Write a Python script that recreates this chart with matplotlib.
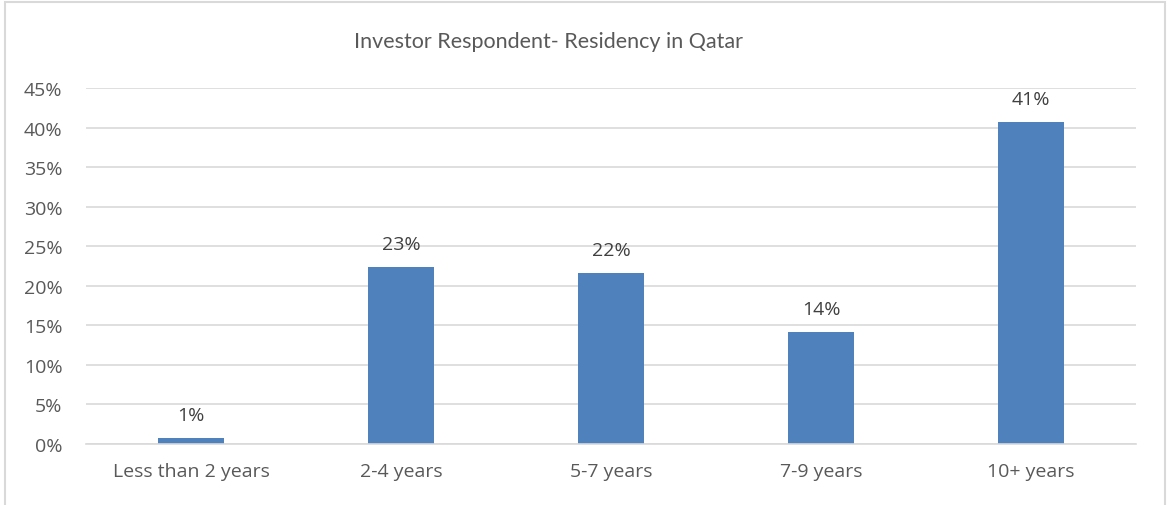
import numpy as np
import matplotlib.pyplot as plt
from matplotlib.patches import Rectangle
from matplotlib.ticker import PercentFormatter

# data
categories = ['Less than 2 years', '2-4 years', '5-7 years', '7-9 years', '10+ years']
shares = [0.0072, 0.2241, 0.2165, 0.1414, 0.4073]
labels = ['1%', '23%', '22%', '14%', '41%']
yticks = [0, 0.05, 0.10, 0.15, 0.20, 0.25, 0.30, 0.35, 0.40, 0.45]

plt.rcParams['font.family'] = ['Open Sans', 'DejaVu Sans']
txt = '#595959'
grid = '#d9d9d9'
bar_col = '#4f81bd'

fig = plt.figure(figsize=(11.68, 5.06), dpi=100)
ax = fig.add_axes([86/1168, 1-444.7/506, 1050/1168, 355.4/506])

x = np.arange(len(categories))
bars = ax.bar(x, shares, width=0.31, color=bar_col, zorder=3)
for b, lab in zip(bars, labels):
    ax.annotate(lab, (b.get_x() + b.get_width()/2, b.get_height()),
                xytext=(0, 13), textcoords='offset points',
                ha='center', va='baseline', fontsize=14, color='#404040')

ax.set_xlim(-0.5, len(categories) - 0.5)
ax.set_ylim(0, 0.45)
ax.set_yticks(yticks)
ax.yaxis.set_major_formatter(PercentFormatter(1.0, decimals=0))
ax.set_xticks(x)
ax.set_xticklabels(categories)
ax.tick_params(axis='both', length=0, labelsize=14, colors=txt)
ax.tick_params(axis='x', pad=13)
ax.tick_params(axis='y', pad=17)
ax.grid(axis='y', color=grid, linewidth=1.2, zorder=0)
for s in ['top', 'right', 'left']:
    ax.spines[s].set_visible(False)
ax.spines['bottom'].set_color(grid)
ax.spines['bottom'].set_linewidth(1.2)
ax.spines['bottom'].set_zorder(4)

fig.text(548/1168, 1-48/506, 'Investor Respondent- Residency in Qatar',
         ha='center', va='baseline', fontsize=15.5, color=txt,
         family=['Lato', 'DejaVu Sans'])

# outer chart border (bottom edge falls outside the image)
fig.patches.append(Rectangle((5/1168, -0.05), 1160/1168, 1.05 - 3/506,
                             transform=fig.transFigure, fill=False,
                             edgecolor=grid, linewidth=1.5))

fig.savefig('out.png', dpi=100)
